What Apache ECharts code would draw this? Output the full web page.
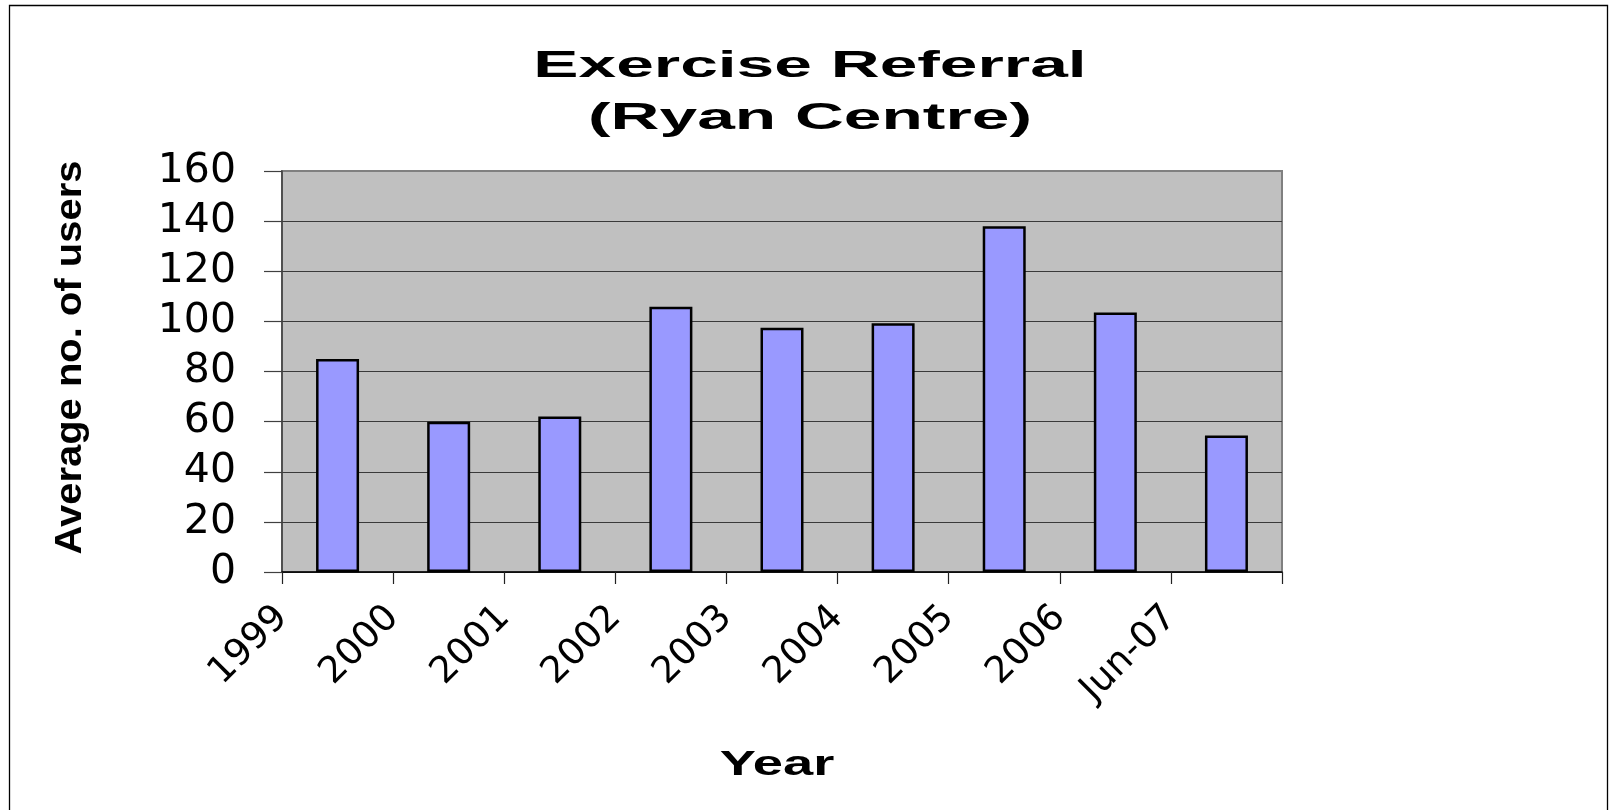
<!DOCTYPE html>
<html>
<head>
<meta charset="utf-8">
<script src="https://cdn.jsdelivr.net/npm/echarts@6/dist/echarts.min.js"></script>
<style>
  html, body { margin: 0; padding: 0; background: #ffffff; }
  #chart { width: 1609px; height: 810px; }
</style>
</head>
<body>
<div id="chart"></div>
<script>
// ---- data ----
const years = ['1999', '2000', '2001', '2002', '2003', '2004', '2005', '2006', 'Jun-07'];
const users = [85, 60, 62, 105.8, 97.5, 99.3, 138, 103.5, 54.5];
const yTicks = { min: 0, max: 160, interval: 20 };
const titleText = 'Exercise Referral\n(Ryan Centre)';
const yName = 'Average no. of users';
const xName = 'Year';

// tick labels sit on the tick marks (band boundaries); the last boundary is unlabeled
const tickLabels = years.concat(['']);

const chart = echarts.init(document.getElementById('chart'), null, { renderer: 'canvas' });

const gridLineColors = ['#3a3a3a', '#3a3a3a', '#3a3a3a', '#3a3a3a', '#3a3a3a', '#3a3a3a', '#3a3a3a', '#3a3a3a', '#808080'];

chart.setOption({
  animation: false,
  backgroundColor: '#ffffff',
  grid: {
    left: 282, top: 171, width: 1000, height: 401,
    show: true,
    backgroundColor: '#C0C0C0',
    borderColor: '#808080',
    borderWidth: 2
  },
  xAxis: [
    {
      type: 'category',
      data: years,
      position: 'bottom',
      boundaryGap: true,
      axisLine: { show: true, lineStyle: { color: '#000000', width: 1.5 } },
      axisTick: { show: false },
      axisLabel: { show: false },
      splitLine: { show: false }
    },
    {
      type: 'category',
      data: tickLabels,
      position: 'bottom',
      boundaryGap: false,
      axisLine: { show: false },
      axisTick: { show: true, inside: false, length: 12, interval: 0, lineStyle: { color: '#222222', width: 1.2 } },
      axisLabel: {
        show: true, interval: 0, rotate: 45, margin: 40,
        fontFamily: 'DejaVu Sans', fontSize: 37, color: '#000000'
      },
      splitLine: { show: false }
    }
  ],
  yAxis: {
    type: 'value',
    min: yTicks.min, max: yTicks.max, interval: yTicks.interval,
    axisLine: { show: true, lineStyle: { color: '#404040', width: 1.5 } },
    axisTick: { show: true, inside: false, length: 18, lineStyle: { color: '#404040', width: 1.2 } },
    axisLabel: { margin: 46, fontFamily: 'DejaVu Sans', fontSize: 41, color: '#000000' },
    splitLine: { show: true, lineStyle: { color: gridLineColors, width: 1.2 } }
  },
  series: [{
    type: 'bar',
    xAxisIndex: 0,
    data: users,
    barWidth: 43,
    itemStyle: { color: '#9999FF', borderColor: '#000000', borderWidth: 2.5 }
  }],
  graphic: [
    {
      type: 'rect', silent: true,
      shape: { x: 9.5, y: 5.5, width: 1598, height: 830 },
      style: { fill: null, stroke: '#000000', lineWidth: 1.3 }
    },
    {
      type: 'text', silent: true,
      x: 810, y: 93, scaleX: 1.83,
      style: {
        text: titleText, font: 'bold 37px "Liberation Sans"', fill: '#000000',
        textAlign: 'center', textVerticalAlign: 'middle', lineHeight: 52.5
      }
    },
    {
      type: 'text', silent: true,
      x: 70.5, y: 357.5, rotation: Math.PI / 2, scaleX: 1.08,
      style: {
        text: yName, font: 'bold 37px "Liberation Sans"', fill: '#000000',
        textAlign: 'center', textVerticalAlign: 'middle'
      }
    },
    {
      type: 'text', silent: true,
      x: 777, y: 765, scaleX: 1.55,
      style: {
        text: xName, font: 'bold 35px "Liberation Sans"', fill: '#000000',
        textAlign: 'center', textVerticalAlign: 'middle'
      }
    }
  ]
});
</script>
</body>
</html>
